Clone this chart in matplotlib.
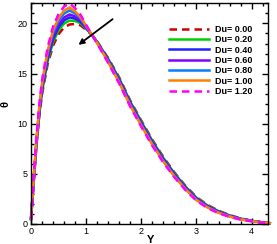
import matplotlib
matplotlib.use("Agg")
import matplotlib.pyplot as plt
from matplotlib.ticker import MultipleLocator

Y = [0, 0.05, 0.1, 0.15, 0.2, 0.3, 0.4, 0.5, 0.6, 0.7, 0.8, 0.9, 1.0, 1.1, 1.2, 1.4, 1.6,
     1.8, 2.0, 2.2, 2.4, 2.6, 2.8, 3.0, 3.2, 3.4, 3.6, 3.8, 4.0, 4.2, 4.33]

theta_du000 = [0.48, 4.28, 7.90, 10.76, 12.95, 15.90, 17.80, 18.94, 19.61, 19.90, 19.95, 19.81, 19.36,
               18.9, 18.19, 16.54, 14.6, 12.3, 10.3, 8.4, 6.67, 5.14, 3.81, 2.68, 1.90, 1.32, 0.89,
               0.56, 0.33, 0.15, 0.08]
theta_du020 = [0.49, 4.37, 8.06, 10.97, 13.21, 16.22, 18.16, 19.32, 20.00, 20.29, 20.25, 20.01, 19.46,
               18.9, 18.16, 16.46, 14.5, 12.2, 10.2, 8.3, 6.58, 5.06, 3.74, 2.62, 1.85, 1.28, 0.86,
               0.54, 0.32, 0.15, 0.08]
theta_du040 = [0.49, 4.44, 8.18, 11.14, 13.41, 16.47, 18.44, 19.62, 20.31, 20.61, 20.48, 20.16, 19.53,
               18.9, 18.13, 16.38, 14.4, 12.1, 10.1, 8.2, 6.49, 4.98, 3.67, 2.56, 1.80, 1.24, 0.83,
               0.52, 0.31, 0.15, 0.08]
theta_du060 = [0.5, 4.5, 8.3, 11.3, 13.6, 16.7, 18.7, 19.9, 20.6, 20.9, 20.7, 20.3, 19.6,
               18.9, 18.1, 16.3, 14.3, 12.0, 10.0, 8.1, 6.4, 4.9, 3.6, 2.5, 1.75, 1.2, 0.8,
               0.5, 0.3, 0.15, 0.08]
theta_du080 = [0.51, 4.59, 8.46, 11.51, 13.86, 17.02, 19.06, 20.28, 20.99, 21.30, 20.99, 20.49, 19.69,
               18.9, 18.07, 16.22, 14.2, 11.9, 9.9, 8.0, 6.31, 4.82, 3.53, 2.44, 1.70, 1.16, 0.77,
               0.48, 0.29, 0.15, 0.08]
theta_du100 = [0.52, 4.65, 8.57, 11.67, 14.05, 17.25, 19.32, 20.56, 21.28, 21.59, 21.21, 20.63, 19.76,
               18.9, 18.04, 16.14, 14.1, 11.8, 9.8, 7.9, 6.22, 4.74, 3.46, 2.38, 1.65, 1.12, 0.74,
               0.46, 0.28, 0.15, 0.08]
theta_du120 = [0.53, 4.74, 8.74, 11.90, 14.32, 17.59, 19.69, 20.95, 21.69, 22.01, 21.52, 20.84, 19.86,
               18.9, 18.01, 16.06, 14.0, 11.7, 9.7, 7.8, 6.13, 4.66, 3.39, 2.32, 1.60, 1.08, 0.71,
               0.44, 0.27, 0.15, 0.08]

labels = ["Du= 0.00", "Du= 0.20", "Du= 0.40", "Du= 0.60", "Du= 0.80", "Du= 1.00", "Du= 1.20"]
series = [theta_du000, theta_du020, theta_du040, theta_du060, theta_du080, theta_du100, theta_du120]
colors = ["#d00000", "#00d000", "#2020ff", "#8000ff", "#0080ff", "#ff8000", "#ff00ff"]
styles = ["--", "-", "-", "-", "-", "-", "--"]

plt.rcParams['font.family'] = ['Liberation Sans', 'DejaVu Sans']

fig = plt.figure(figsize=(2.77, 2.44), dpi=100)
ax = fig.add_axes([0.112, 0.082, 0.856, 0.904])

for vals, c, ls, lab in zip(series, colors, styles, labels):
    line, = ax.plot(Y, vals, color=c, linestyle=ls, linewidth=1.8, label=lab, clip_on=False)
    if ls == "--":
        line.set_dashes((3, 2))

ax.set_xlim(0, 4.3)
ax.set_ylim(0, 22)
ax.xaxis.set_major_locator(MultipleLocator(1))
ax.xaxis.set_minor_locator(MultipleLocator(0.2))
ax.yaxis.set_major_locator(MultipleLocator(5))
ax.yaxis.set_minor_locator(MultipleLocator(1))
ax.tick_params(which='both', direction='in', top=True, right=True, labelsize=6.5, width=1)
ax.tick_params(which='major', length=4, pad=2.5)
ax.tick_params(which='minor', length=2.5)
for s in ax.spines.values():
    s.set_linewidth(1)

ax.set_xlabel("Y", fontsize=8, fontweight='bold')
ax.set_ylabel("θ", fontsize=8, fontweight='bold')
ax.xaxis.set_label_coords(0.502, -0.05)
ax.yaxis.set_label_coords(-0.088, 0.543)

ax.annotate("", xy=(0.82, 17.7), xytext=(1.52, 20.6),
            arrowprops=dict(arrowstyle="-|>", color="black", lw=1.3, mutation_scale=8))

leg = ax.legend(loc='upper left', bbox_to_anchor=(0.582, 0.903), frameon=False,
                prop={'size': 6.5, 'weight': 'bold'}, handlelength=4.43, handletextpad=0.66,
                labelspacing=0.15, borderaxespad=0.0, borderpad=0.0)

fig.savefig("out.png", dpi=100)
